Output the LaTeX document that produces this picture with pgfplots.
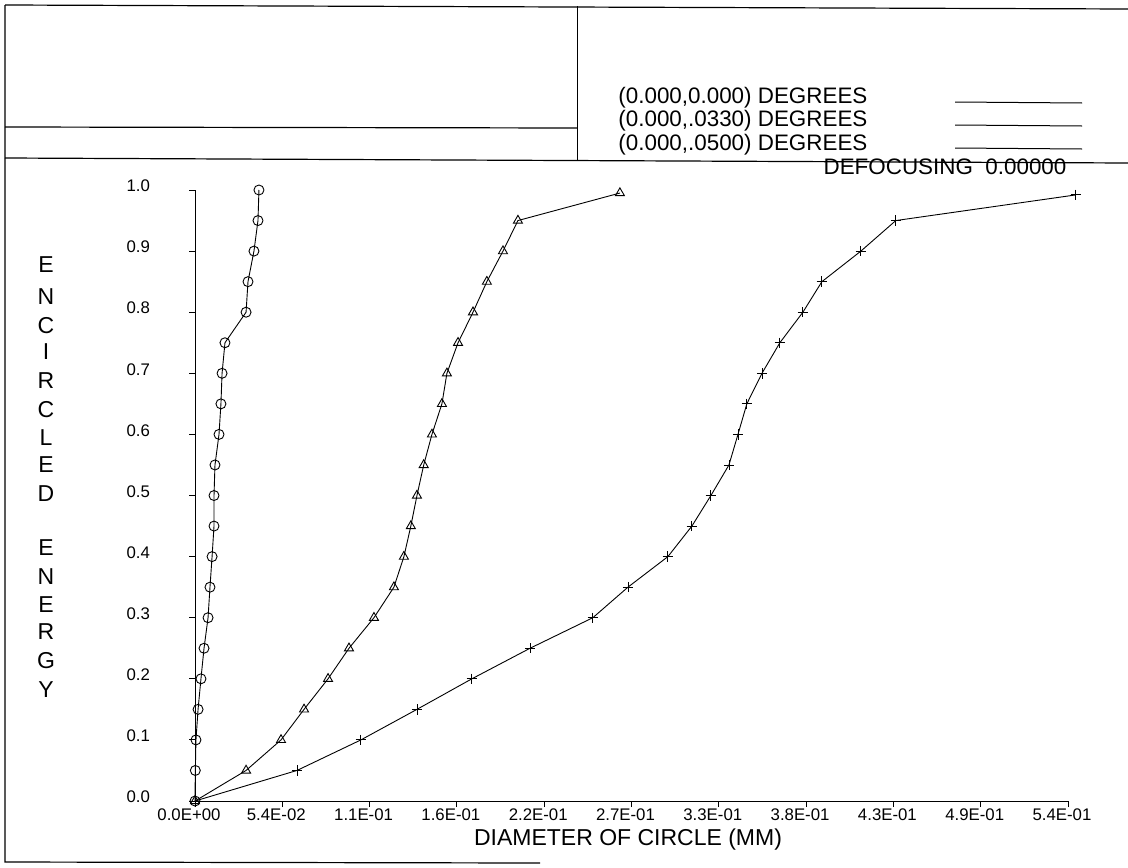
\documentclass[border=0pt]{standalone}
\usepackage{pgfplots}
\pgfplotsset{compat=1.18}
\usepackage{fontspec}
\setmainfont{Liberation Sans}
\begin{document}
\begin{tikzpicture}
\begin{scope}[x=0.5pt,y=-0.5pt]
\useasboundingbox (0,0) rectangle (1128,867);
\coordinate (O) at (195,801);
\draw[line width=0.6pt] (5,5) -- (1128,9);
\draw[line width=0.6pt] (5,5) -- (5,862) -- (540,863);
\draw[line width=0.5pt] (577,6) -- (577,160);
\draw[line width=0.6pt] (5,127) -- (577,128);
\draw[line width=0.6pt] (5,158) -- (1128,163);
\begin{scope}[font=\fontsize{11.2}{13}\selectfont]
\node[anchor=west,inner sep=0pt] at (618,98) {(0.000,0.000) DEGREES};
\node[anchor=west,inner sep=0pt] at (618,121) {(0.000,.0330) DEGREES};
\node[anchor=west,inner sep=0pt] at (618,145) {(0.000,.0500) DEGREES};
\node[anchor=center,inner sep=0pt] at (945,167) {DEFOCUSING\ \ 0.00000};
\end{scope}
\draw[line width=0.5pt] (955,102) -- (1082,103);
\draw[line width=0.5pt] (955,125) -- (1082,126);
\draw[line width=0.5pt] (955,148) -- (1082,149);
\node[font=\fontsize{11.5}{13}\selectfont,inner sep=0pt] at (628,840) {DIAMETER OF CIRCLE (MM)};
\foreach \l/\yy in {E/265,N/297,C/326,I/352,R/381,C/410,L/438,E/465,D/494,E/548,N/577,E/605,R/632,G/661,Y/690}
  \node[font=\fontsize{11.5}{13}\selectfont,inner sep=0pt] at (46,\yy) {\l};
\end{scope}
\begin{axis}[
  at={(O)}, anchor=south west,
  scale only axis, width=436.5pt, height=305.5pt,
  xmin=0, xmax=0.542, ymin=0, ymax=1,
  axis x line*=bottom, axis y line*=left,
  axis line style={line width=0.5pt},
  clip=false,
  tick align=outside, major tick length=3pt,
  tick style={line width=0.5pt,black},
  xtick={0,0.0542,0.1084,0.1626,0.2168,0.271,0.3252,0.3794,0.4336,0.4878,0.542},
  xticklabels={0.0E+00,5.4E-02,1.1E-01,1.6E-01,2.2E-01,2.7E-01,3.3E-01,3.8E-01,4.3E-01,4.9E-01,5.4E-01},
  ytick={0,0.1,0.2,0.3,0.4,0.5,0.6,0.7,0.8,0.9,1.0},
  yticklabels={0.0,0.1,0.2,0.3,0.4,0.5,0.6,0.7,0.8,0.9,1.0},
  ticklabel style={font=\fontsize{8.4}{10}\selectfont},
  xticklabel style={xshift=-3pt, yshift=2.5pt},
  yticklabel style={xshift=-16pt, yshift=2pt},
  every axis plot/.append style={black, line width=0.45pt, mark options={solid, line width=0.45pt}},
]
\addplot[mark=o, mark size=2.5pt] coordinates {
(0,0) (0.0002,0.05) (0.0006,0.10) (0.0019,0.15) (0.0037,0.20) (0.0056,0.25)
(0.0081,0.30) (0.0093,0.35) (0.0106,0.40) (0.0118,0.45) (0.0118,0.50)
(0.0124,0.55) (0.0149,0.60) (0.0161,0.65) (0.0168,0.70) (0.0186,0.75)
(0.0317,0.80) (0.0329,0.85) (0.0366,0.90) (0.0391,0.95) (0.0397,1.00)};
\addplot[mark=triangle, mark size=2.6pt] coordinates {
(0,0) (0.0317,0.05) (0.0534,0.10) (0.0677,0.15) (0.0826,0.20) (0.0956,0.25)
(0.1111,0.30) (0.1235,0.35) (0.1297,0.40) (0.1340,0.45) (0.1378,0.50)
(0.1420,0.55) (0.1471,0.60) (0.1533,0.65) (0.1564,0.70) (0.1633,0.75)
(0.1726,0.80) (0.1812,0.85) (0.1912,0.90) (0.2005,0.95) (0.2638,0.995)};
\addplot[mark=+, mark size=2.6pt] coordinates {
(0,0) (0.0633,0.05) (0.1030,0.10) (0.1378,0.15) (0.1719,0.20) (0.2080,0.25)
(0.2470,0.30) (0.2688,0.35) (0.2936,0.40) (0.3085,0.45) (0.3203,0.50)
(0.3315,0.55) (0.3371,0.60) (0.3426,0.65) (0.3520,0.70) (0.3631,0.75)
(0.3774,0.80) (0.3892,0.85) (0.4134,0.90) (0.4351,0.95) (0.5469,0.992)};
\end{axis}
\end{tikzpicture}
\end{document}
